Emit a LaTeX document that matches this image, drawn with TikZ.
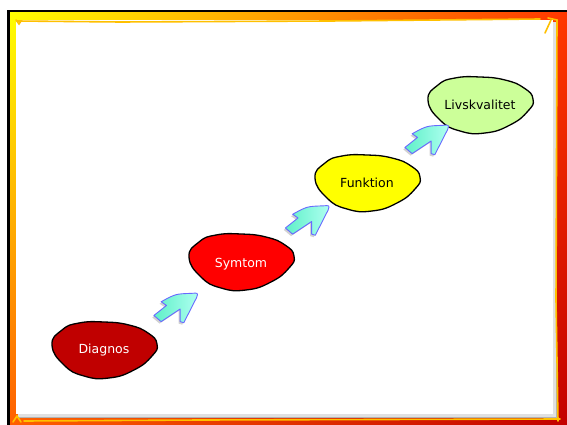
\documentclass[tikz,border=0pt]{standalone}
\usepackage{fontspec}
\setsansfont{DejaVu Sans}
\usetikzlibrary{calc,shadings}
\definecolor{frameTL}{RGB}{255,255,0}
\definecolor{frameTR}{RGB}{255,55,0}
\definecolor{frameBL}{RGB}{255,95,0}
\definecolor{frameBR}{RGB}{195,0,0}
\definecolor{paperline}{RGB}{255,192,0}
\definecolor{cDiag}{RGB}{192,0,0}
\definecolor{cSym}{RGB}{255,0,0}
\definecolor{cFunk}{RGB}{255,255,0}
\definecolor{cLiv}{RGB}{204,255,153}
\definecolor{arrA}{RGB}{95,240,200}
\definecolor{arrB}{RGB}{175,255,240}
\definecolor{arrLine}{RGB}{105,105,255}
\tikzset{
  lbl/.style={font=\sffamily\fontsize{12.5}{14}\selectfont, inner sep=0pt},
  blobline/.style={draw=black, line width=1.3pt},
  pline/.style={draw=paperline, line width=1.6pt, line cap=round},
  bentarrow/.pic={
    \begin{scope}[scale=1.08]
    \fill[black, opacity=0.18, shift={(-1.5,1.8)}] (-20,6) -- (-8.3,-3.3) -- (-13.3,-6.7)
      .. controls (0,-14) .. (15,-14.5)
      .. controls (21,-15) .. (19.5,-10.5)
      -- (7.7,12.7) -- (4.3,11.7) -- (4.3,0)
      -- (-13.3,11.7) -- cycle;
    \draw[draw=arrLine, line width=0.9pt, line join=round, left color=arrA, right color=arrB]
      (-20,6) -- (-8.3,-3.3) -- (-13.3,-6.7)
      .. controls (0,-14) .. (15,-14.5)
      .. controls (21,-15) .. (19.5,-10.5)
      -- (7.7,12.7) -- (4.3,11.7) -- (4.3,0)
      -- (-13.3,11.7) -- cycle;
    \end{scope}
  }
}
\newcommand{\blobplot}{plot[smooth cycle, tension=0.85] coordinates {(-52,-5) (-42,-20) (-25,-27) (0,-28) (25,-25) (44,-17) (53,-6) (48,6) (30,20) (5,28) (-20,26) (-40,15)}}
\begin{document}
\begin{tikzpicture}[x=1pt,y=-1pt]
\useasboundingbox (0,0) rectangle (567,425);
% frame
\fill[black] (7,10) rectangle (567,425);
\shade[upper left=frameTL, upper right=frameTR, lower left=frameBL, lower right=frameBR] (10,13) rectangle (567,425);
% paper with shadow
\fill[black!30] (19,23) rectangle (557,418);
\fill[black!12] (18,22) rectangle (556,417);
\fill[white] (16,20) rectangle (553,414);
% hand-drawn paper edges
\draw[pline] (17,21) -- (120,22) -- (330,21) -- (540,19);
\draw[pline] (16,20) -- (19,24) -- (21,21);
\draw[pline] (548,18) -- (557,20) -- (556,300) -- (558,421);
\draw[pline] (551,20) -- (545,33);
\draw[pline] (24,421) -- (200,420) -- (560,419);
\draw[pline] (13,422) -- (17,416) -- (21,422);
% centres
\coordinate (dc) at (104,350);
\coordinate (sc) at (241,262);
\coordinate (fc) at (367,183);
\coordinate (lc) at (480,105);
% blobs
\draw[blobline, fill=cDiag, shift={(dc)}] \blobplot;
\draw[blobline, fill=cSym, shift={(sc)}] \blobplot;
\draw[blobline, fill=cFunk, shift={(fc)}] \blobplot;
\draw[blobline, fill=cLiv, shift={(lc)}] \blobplot;
% labels
\node[lbl, text=white] (d) at (dc) {Diagnos};
\node[lbl, text=white] (s) at ([shift={(0,2)}]sc) {Symtom};
\node[lbl, text=black] (f) at (fc) {Funktion};
\node[lbl, text=black] (l) at (lc) {Livskvalitet};
% arrows
\pic at ($(dc)!0.5!(sc)+(3,3)$) {bentarrow};
\pic at ($(sc)!0.5!(fc)+(3,-1)$) {bentarrow};
\pic at ($(fc)!0.5!(lc)+(3,-3)$) {bentarrow};
\end{tikzpicture}
\end{document}
